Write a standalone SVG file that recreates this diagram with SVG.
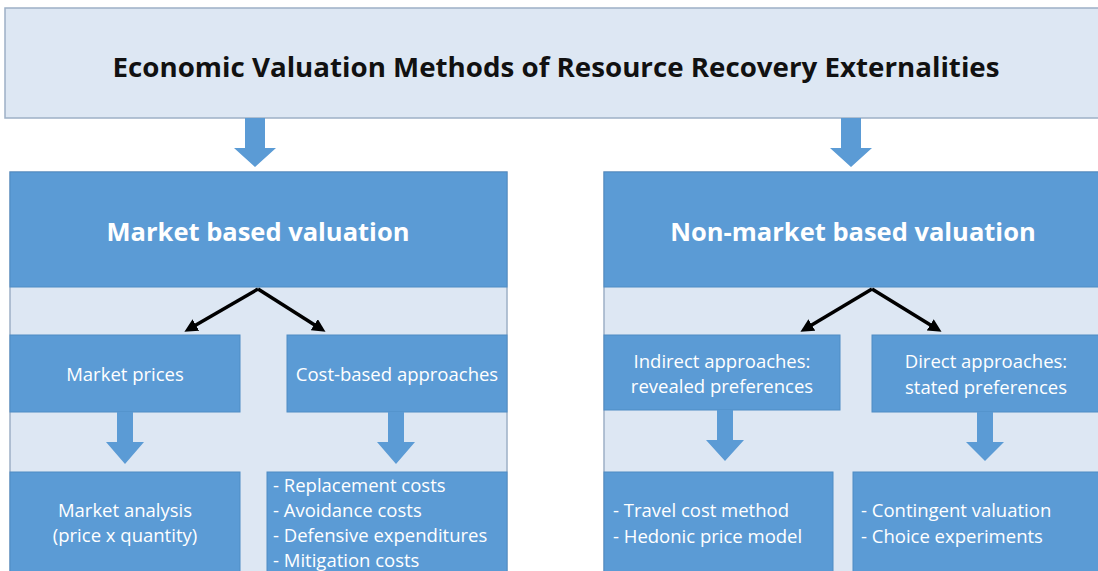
<svg xmlns="http://www.w3.org/2000/svg" width="1098" height="571" viewBox="0 0 1098 571">
<style>
.bg{fill:#ffffff}
.light{fill:#dde7f3;stroke:#9db0c6;stroke-width:1.5}
.dark{fill:#5b9bd5;stroke:#4f8cc4;stroke-width:1}
.t{font-family:"Open Sans","Noto Sans",sans-serif;fill:#ffffff}
.h{font-weight:bold;font-size:25.5px}
.s{font-size:18.5px}
.title{font-family:"Open Sans","Noto Sans",sans-serif;font-weight:bold;font-size:26px;fill:#111111}
.barrow{fill:#5b9bd5}
.kline{stroke:#000000;stroke-width:3.5;fill:none;marker-end:url(#ah)}
</style>
<defs>
<marker id="ah" viewBox="0 0 10 10" refX="6" refY="5" markerWidth="3.8" markerHeight="3.8" orient="auto" markerUnits="strokeWidth">
<path d="M0,0 L10,5 L0,10 z" fill="#000000"/>
</marker>
</defs>
<rect class="bg" x="0" y="0" width="1098" height="571"/>
<g id="title-node">
<rect class="light" x="5" y="8" width="1100" height="110"/>
<text class="title" x="556" y="77" text-anchor="middle" textLength="887" lengthAdjust="spacingAndGlyphs">Economic Valuation Methods of Resource Recovery Externalities</text>
</g>
<g id="market-panel">
<rect class="light" x="10" y="172" width="497" height="410"/>
<rect class="dark" x="10" y="172" width="497" height="115"/>
<text class="t h" x="258" y="241" text-anchor="middle">Market based valuation</text>
</g>
<g id="nonmarket-panel">
<rect class="light" x="604" y="172" width="500" height="410"/>
<rect class="dark" x="604" y="172" width="500" height="115"/>
<text class="t h" x="853" y="241" text-anchor="middle">Non-market based valuation</text>
</g>
<g id="market-prices">
<rect class="dark" x="10" y="335" width="230" height="77"/>
<text class="t s" x="125" y="381" text-anchor="middle">Market prices</text>
</g>
<g id="cost-based">
<rect class="dark" x="287" y="335" width="220" height="77"/>
<text class="t s" x="397" y="381" text-anchor="middle">Cost-based approaches</text>
</g>
<g id="indirect">
<rect class="dark" x="604" y="335" width="236" height="75"/>
<text class="t s" x="722" y="368" text-anchor="middle">Indirect approaches:</text>
<text class="t s" x="722" y="393" text-anchor="middle">revealed preferences</text>
</g>
<g id="direct">
<rect class="dark" x="872" y="335" width="230" height="77"/>
<text class="t s" x="986" y="368" text-anchor="middle">Direct approaches:</text>
<text class="t s" x="986" y="394" text-anchor="middle">stated preferences</text>
</g>
<g id="market-analysis">
<rect class="dark" x="10" y="472" width="230" height="110"/>
<text class="t s" x="125" y="517" text-anchor="middle">Market analysis</text>
<text class="t s" x="125" y="542" text-anchor="middle">(price x quantity)</text>
</g>
<g id="cost-list">
<rect class="dark" x="267" y="472" width="240" height="110"/>
<text class="t s" x="273" y="492">- Replacement costs</text>
<text class="t s" x="273" y="517">- Avoidance costs</text>
<text class="t s" x="273" y="542">- Defensive expenditures</text>
<text class="t s" x="273" y="567">- Mitigation costs</text>
</g>
<g id="revealed-list">
<rect class="dark" x="604" y="472" width="229" height="110"/>
<text class="t s" x="613" y="517">- Travel cost method</text>
<text class="t s" x="613" y="543">- Hedonic price model</text>
</g>
<g id="stated-list">
<rect class="dark" x="853" y="472" width="250" height="110"/>
<text class="t s" x="861" y="517">- Contingent valuation</text>
<text class="t s" x="861" y="543">- Choice experiments</text>
</g>
<g id="connectors">
<path class="barrow" d="M245,118 H265 V148 H276 L255,167 L234,148 H245 Z"/>
<path class="barrow" d="M841,118 H861 V148 H872 L851,167 L830,148 H841 Z"/>
<path class="barrow" d="M117,412 H133 V442 H144 L125,464 L106,442 H117 Z"/>
<path class="barrow" d="M388,412 H404 V442 H415 L396,464 L377,442 H388 Z"/>
<path class="barrow" d="M717,410 H733 V440 H744 L725,461 L706,440 H717 Z"/>
<path class="barrow" d="M977,412 H993 V442 H1004 L985,461 L966,442 H977 Z"/>
<line class="kline" x1="258" y1="289" x2="189" y2="329"/>
<line class="kline" x1="258" y1="289" x2="321" y2="329"/>
<line class="kline" x1="872" y1="289" x2="805" y2="329"/>
<line class="kline" x1="872" y1="289" x2="937" y2="329"/>
</g>
</svg>
